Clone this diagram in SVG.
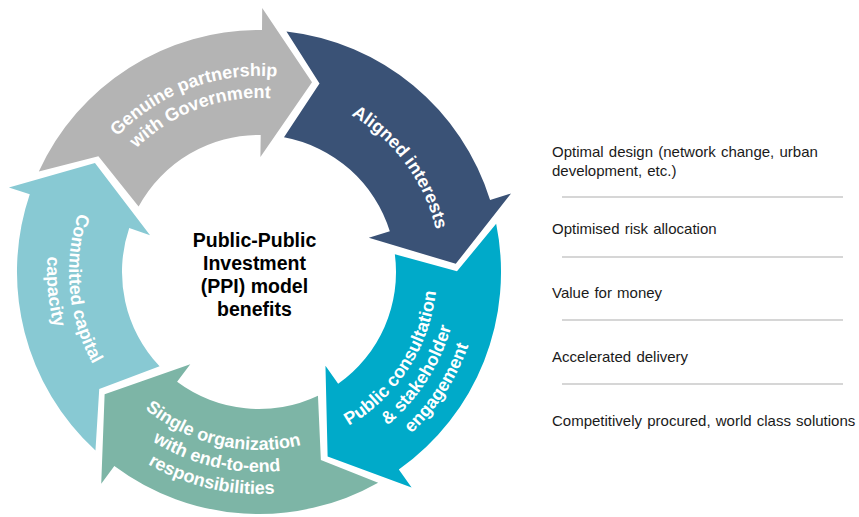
<svg xmlns="http://www.w3.org/2000/svg" xmlns:xlink="http://www.w3.org/1999/xlink" width="859" height="517" viewBox="0 0 859 517">
<style>
.lbl{font-family:"Liberation Sans",Arial,sans-serif;font-weight:bold;font-size:18px;fill:#FFFFFF;}
.ctr{font-family:"Liberation Sans",Arial,sans-serif;font-weight:bold;font-size:19.5px;fill:#000000;}
.lst{font-family:"Liberation Sans",Arial,sans-serif;font-size:15px;fill:#1A1A1A;word-spacing:1px;}
.rule{stroke:#C8C8C8;stroke-width:1.3;fill:none;}
</style>
<defs>
<path id="arrowShape" d="M 38.8 171.6 A 242 242 0 0 1 262.0 30.0 L 262.2 8.0 L 312.0 82.3 L 260.4 157.0 L 260.7 135.0 A 137 137 0 0 0 138.6 206.6 L 98.4 156.2 Z"/>
<path id="pg1" d="M 65.69 239.65 A 196 196 0 0 1 383.67 120.76"/>
<path id="pg2" d="M 87.39 243.28 A 174 174 0 0 1 369.68 137.74"/>
<path id="pd1" d="M 238.40 91.17 A 182 182 0 0 1 425.90 344.57"/>
<path id="pc1" d="M 249.68 449.76 A 178 178 0 0 0 417.60 191.19"/>
<path id="pc2" d="M 248.53 471.73 A 200 200 0 0 0 437.20 181.20"/>
<path id="pc3" d="M 247.38 493.70 A 222 222 0 0 0 456.80 171.21"/>
<path id="pe1" d="M 88.78 324.04 A 178 178 0 0 0 389.18 393.40"/>
<path id="pe2" d="M 67.74 330.47 A 200 200 0 0 0 405.27 408.40"/>
<path id="pe3" d="M 46.70 336.91 A 222 222 0 0 0 421.36 423.40"/>
<path id="pl1" d="M 148.67 117.32 A 190 190 0 0 0 180.21 444.89"/>
<path id="pl2" d="M 135.89 99.41 A 212 212 0 0 0 171.09 464.91"/>
</defs>
<g id="arrow-genuine-partnership">
<use xlink:href="#arrowShape" href="#arrowShape" fill="#B4B4B4"/>
<text class="lbl" text-anchor="middle"><textPath xlink:href="#pg1" href="#pg1" startOffset="50%">Genuine partnership</textPath></text>
<text class="lbl" text-anchor="middle"><textPath xlink:href="#pg2" href="#pg2" startOffset="50%">with Government</textPath></text>
</g>
<g id="arrow-aligned-interests">
<use xlink:href="#arrowShape" href="#arrowShape" fill="#3A5276" transform="rotate(72 259 272)"/>
<text class="lbl" text-anchor="middle"><textPath xlink:href="#pd1" href="#pd1" startOffset="50%">Aligned interests</textPath></text>
</g>
<g id="arrow-public-consultation">
<use xlink:href="#arrowShape" href="#arrowShape" fill="#00AAC9" transform="rotate(144 259 272)"/>
<text class="lbl" text-anchor="middle"><textPath xlink:href="#pc1" href="#pc1" startOffset="50%">Public consultation</textPath></text>
<text class="lbl" text-anchor="middle"><textPath xlink:href="#pc2" href="#pc2" startOffset="50%">&amp; stakeholder</textPath></text>
<text class="lbl" text-anchor="middle"><textPath xlink:href="#pc3" href="#pc3" startOffset="50%">engagement</textPath></text>
</g>
<g id="arrow-single-organization">
<use xlink:href="#arrowShape" href="#arrowShape" fill="#7DB5A6" transform="rotate(216 259 272)"/>
<text class="lbl" text-anchor="middle"><textPath xlink:href="#pe1" href="#pe1" startOffset="50%">Single organization</textPath></text>
<text class="lbl" text-anchor="middle"><textPath xlink:href="#pe2" href="#pe2" startOffset="50%">with end-to-end</textPath></text>
<text class="lbl" text-anchor="middle"><textPath xlink:href="#pe3" href="#pe3" startOffset="50%">responsibilities</textPath></text>
</g>
<g id="arrow-committed-capital">
<use xlink:href="#arrowShape" href="#arrowShape" fill="#88C9D3" transform="rotate(288 259 272)"/>
<text class="lbl" text-anchor="middle"><textPath xlink:href="#pl1" href="#pl1" startOffset="50%">Committed capital</textPath></text>
<text class="lbl" text-anchor="middle"><textPath xlink:href="#pl2" href="#pl2" startOffset="50%">capacity</textPath></text>
</g>
<g id="center-title">
<text class="ctr" text-anchor="middle" x="254.5" y="247">Public-Public</text>
<text class="ctr" text-anchor="middle" x="254.5" y="270">Investment</text>
<text class="ctr" text-anchor="middle" x="254.5" y="293">(PPI) model</text>
<text class="ctr" text-anchor="middle" x="254.5" y="316">benefits</text>
</g>
<g id="benefits-list">
<text class="lst" x="552" y="157">Optimal design (network change, urban</text>
<text class="lst" x="552" y="176">development, etc.)</text>
<line class="rule" x1="562" y1="197" x2="843" y2="197"/>
<text class="lst" x="552" y="234">Optimised risk allocation</text>
<line class="rule" x1="562" y1="257" x2="843" y2="257"/>
<text class="lst" x="552" y="298">Value for money</text>
<line class="rule" x1="562" y1="320" x2="843" y2="320"/>
<text class="lst" x="552" y="362">Accelerated delivery</text>
<line class="rule" x1="562" y1="384" x2="843" y2="384"/>
<text class="lst" x="552" y="426">Competitively procured, world class solutions</text>
</g>
</svg>
